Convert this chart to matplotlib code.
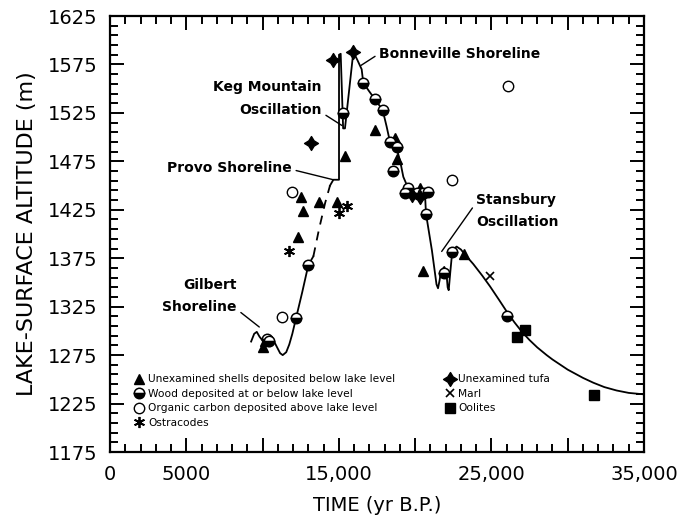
import matplotlib
matplotlib.use("Agg")
import matplotlib.pyplot as plt
from matplotlib.path import Path
from matplotlib.ticker import MultipleLocator, FixedLocator

plt.rcParams["font.family"] = ["DejaVu Sans"]

# ---- Lake-level curve (yr B.P., m) ----
gilbert_time = [9250, 9450, 9620, 9800, 10050, 10300, 10600, 10920, 11150, 11320,
                11550, 11750, 11950, 12190, 12600, 13000, 13330]
gilbert_alt = [1289, 1297, 1299, 1294, 1289, 1291, 1294, 1284, 1277, 1275,
               1278, 1286, 1297, 1313, 1340, 1368, 1377]

inferred_time = [13330, 13700, 14100, 14420]
inferred_alt = [1377, 1405, 1432, 1450]

main_time = [14420, 14640, 15010, 15010, 15120, 15280, 15400, 15950, 16200, 16495,
             16601, 17000, 17368, 17870, 18130, 18351, 18790, 19007, 19225, 19550,
             19900, 20300, 20650, 20710, 21100, 21400, 21500, 21600, 21700, 21910,
             22050, 22130, 22200, 22300, 22390, 22550, 22720, 23000, 23200, 23810,
             24400, 24905, 25500, 26000, 26500, 27000, 27500, 28000, 28620, 29000,
             30000, 31000, 31680, 32400, 33200, 34000, 35000]
main_alt = [1450, 1456, 1456, 1585, 1586, 1509, 1509, 1588, 1580, 1570,
            1556, 1547, 1539, 1528, 1511, 1495, 1488, 1476, 1459, 1447,
            1441, 1441, 1440, 1421, 1383, 1348, 1344, 1352, 1362, 1366,
            1360, 1345, 1342, 1360, 1375, 1385, 1387, 1384, 1380, 1369,
            1357, 1346, 1332, 1320, 1309, 1299, 1290.5, 1283, 1275, 1270.5,
            1260, 1251.5, 1246.5, 1242, 1238.5, 1236, 1234.5]

# ---- Radiocarbon samples ----
shell_time = [10000, 10150, 12343, 12518, 12670, 13698, 14855, 15402, 17368,
              18680, 18830, 20320, 20535, 23180]
shell_alt = [1283, 1290, 1397, 1438, 1424, 1433, 1433, 1480, 1507,
             1499, 1477, 1447, 1362, 1379]

wood_time = [10300, 10450, 12190, 13000, 15300, 16601, 17368, 17870, 18351, 18790,
             18570, 19330, 19550, 20100, 20530, 20860, 20710, 21910, 22435, 26000]
wood_alt = [1292, 1290, 1313, 1368, 1525, 1556, 1539, 1528, 1495, 1490,
            1465, 1442, 1447, 1442, 1442, 1443, 1421, 1360, 1381, 1315]

organic_time = [11250, 11906, 22395, 26065]
organic_alt = [1314, 1443, 1456, 1553]

ostracode_time = [11753, 15030, 15510]
ostracode_alt = [1382, 1422, 1429]

tufa_time = [13154, 14636, 15947, 19770, 20320]
tufa_alt = [1494, 1580, 1588, 1440, 1438]

marl_time = [24880]
marl_alt = [1357]

oolite_time = [26695, 27200, 31720]
oolite_alt = [1294, 1301, 1234]

x_tick_values = [0, 5000, 10000, 15000, 20000, 25000, 30000, 35000]
x_tick_labels = ["0", "5000", "", "15,000", "", "25,000", "", "35,000"]
y_tick_values = [1175, 1225, 1275, 1325, 1375, 1425, 1475, 1525, 1575, 1625]

# four-pointed star used for tufa
tufa_marker = Path([(0, 1), (0.38, 0.38), (1, 0), (0.38, -0.38), (0, -1),
                    (-0.38, -0.38), (-1, 0), (-0.38, 0.38), (0, 1)],
                   [Path.MOVETO] + [Path.LINETO] * 7 + [Path.CLOSEPOLY])

fig = plt.figure(figsize=(6.83, 5.22), dpi=100)
ax = fig.add_axes([110 / 683, 1 - 452 / 522, 534 / 683, 436 / 522])

ax.plot(gilbert_time, gilbert_alt, color="black", lw=1.3, zorder=2)
ax.plot(inferred_time, inferred_alt, color="black", lw=1.3, ls=(0, (5, 4)), zorder=2)
ax.plot(main_time, main_alt, color="black", lw=1.3, zorder=2, solid_joinstyle="round")

h_shell, = ax.plot(shell_time, shell_alt, ls="none", marker="^", ms=7.5, color="black",
                   mec="black", zorder=4, label="Unexamined shells deposited below lake level")
h_wood, = ax.plot(wood_time, wood_alt, ls="none", marker="o", ms=7.5, fillstyle="bottom",
                  mfc="black", mfcalt="white", mec="black", mew=1.1, zorder=5,
                  label="Wood deposited at or below lake level")
h_org, = ax.plot(organic_time, organic_alt, ls="none", marker="o", ms=7.5, mfc="white",
                 mec="black", mew=1.0, zorder=5,
                 label="Organic carbon deposited above lake level")
h_ost, = ax.plot(ostracode_time, ostracode_alt, ls="none", marker=(6, 2, 0), ms=8,
                 mec="black", mew=1.3, zorder=5, label="Ostracodes")
h_tufa, = ax.plot(tufa_time, tufa_alt, ls="none", marker=tufa_marker, ms=10,
                  color="black", zorder=5, label="Unexamined tufa")
h_marl, = ax.plot(marl_time, marl_alt, ls="none", marker="x", ms=6, mec="black",
                  mew=1.2, zorder=5, label="Marl")
h_ool, = ax.plot(oolite_time, oolite_alt, ls="none", marker="s", ms=6.5, color="black",
                 zorder=5, label="Oolites")

ax.set_xlim(0, 35000)
ax.set_ylim(1175, 1625)

ax.xaxis.set_major_locator(FixedLocator(x_tick_values))
ax.set_xticklabels(x_tick_labels)
ax.xaxis.set_minor_locator(MultipleLocator(1000))
ax.yaxis.set_major_locator(FixedLocator(y_tick_values))
ax.yaxis.set_minor_locator(FixedLocator(list(range(1185, 1625, 10))))

ax.tick_params(which="both", direction="in", top=True, right=True, width=1.4)
ax.tick_params(which="major", length=10, pad=9, labelsize=14)
ax.tick_params(which="minor", length=6)
for s in ax.spines.values():
    s.set_linewidth(1.6)

ax.set_xlabel("TIME (yr B.P.)", fontsize=14)
ax.xaxis.label.set_va("center")
ax.xaxis.set_label_coords(0.5, -0.122)
ax.set_ylabel("LAKE-SURFACE ALTITUDE (m)", fontsize=16)
ax.yaxis.label.set_va("center")
ax.yaxis.set_label_coords(-0.155, 0.5)

note = dict(fontsize=10, fontweight="bold")
line = dict(arrowstyle="-", lw=1.0, color="black", shrinkA=1, shrinkB=0)

ax.annotate("Bonneville Shoreline", xy=(16450, 1574), xytext=(17630, 1586),
            ha="left", va="center", arrowprops=dict(line, relpos=(0, 0.5)), **note)
ax.text(13894, 1552, "Keg Mountain", ha="right", va="center", **note)
ax.annotate("Oscillation", xy=(15200, 1512), xytext=(13894, 1528),
            ha="right", va="center", arrowprops=dict(line, relpos=(1, 0.3)), **note)
ax.annotate("Provo Shoreline", xy=(14636, 1456), xytext=(11928, 1468),
            ha="right", va="center", arrowprops=dict(line, relpos=(1, 0.4)), **note)
ax.annotate("Stansbury", xy=(21740, 1382), xytext=(23990, 1435),
            ha="left", va="center", arrowprops=dict(line, relpos=(0, 0.3)), **note)
ax.text(23990, 1412, "Oscillation", ha="left", va="center", **note)
ax.text(8323, 1347, "Gilbert", ha="right", va="center", **note)
ax.annotate("Shoreline", xy=(9785, 1304), xytext=(8323, 1325),
            ha="right", va="center", arrowprops=dict(line, relpos=(1, 0.3)), **note)

ax.legend(handles=[h_shell, h_wood, h_org, h_ost, h_tufa, h_marl, h_ool],
          ncol=2, loc="upper left", bbox_to_anchor=(0.045, 0.178), frameon=False,
          fontsize=7.7, handlelength=1.0, handletextpad=0.3, labelspacing=0.42,
          columnspacing=4.6, borderaxespad=0, borderpad=0)

fig.savefig("out.png", dpi=100)
